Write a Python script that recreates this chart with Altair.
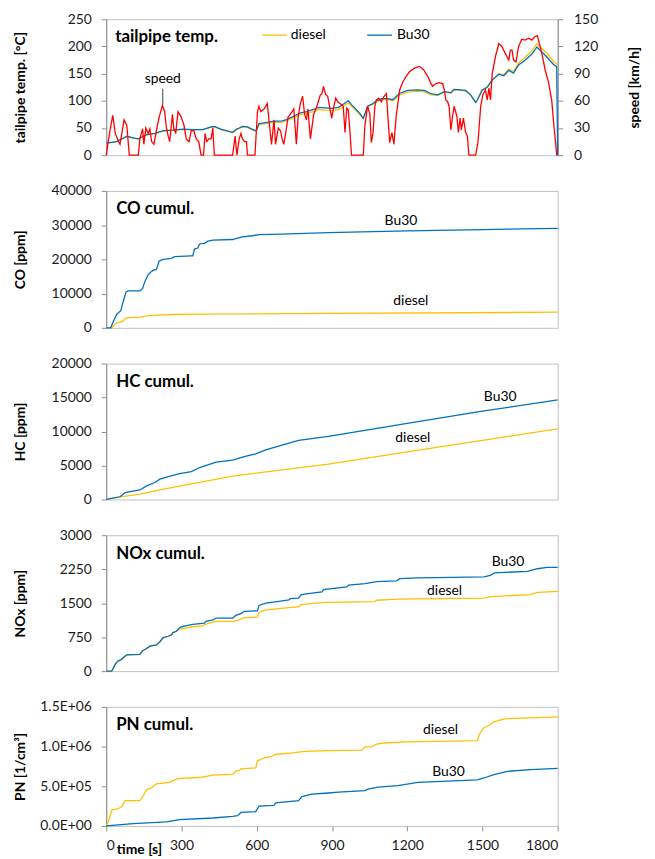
import altair as alt
import pandas as pd

# ---------------- data ----------------
# top panel: tailpipe temperature [°C] and vehicle speed [km/h]
temp_t = [0, 42, 82, 108, 128, 161, 194, 227, 266, 306,
          346, 385, 418, 431, 457, 504, 520, 530, 543, 563,
          589, 598, 609, 636, 662, 702, 715, 741, 774, 800, 833,
          847, 873, 899, 926, 952, 965, 978, 1005, 1025,
          1042, 1064, 1077, 1097, 1123, 1143, 1170, 1203, 1242, 1268,
          1295, 1321, 1348, 1374, 1387, 1413, 1433, 1453, 1473, 1479,
          1499, 1519, 1539, 1565, 1585, 1605, 1624, 1644, 1671, 1697,
          1717, 1730, 1756, 1785, 1796, 1800]
temp_bu30 = [22, 25, 35, 32, 30, 38, 40, 45, 46, 48,
             47, 47, 52, 53, 48, 42, 48, 50, 53, 52,
             46, 45, 58, 60, 62, 63, 65, 70, 78, 80, 85,
             88, 87, 86, 88, 96, 100, 93, 80, 68,
             90, 95, 100, 104, 104, 102, 114, 119, 120, 119,
             113, 111, 117, 115, 121, 120, 119, 111, 97, 101,
             120, 125, 138, 149, 146, 156, 151, 166, 175, 186,
             199, 193, 181, 166, 163, 0]
temp_diesel = [22, 25, 34, 31, 30, 37, 40, 44, 46, 47,
               47, 47, 51, 52, 47, 41, 47, 49, 52, 51,
               45, 44, 56, 58, 60, 61, 63, 67, 75, 77, 81,
               84, 83, 82, 84, 92, 96, 90, 78, 67,
               89, 94, 98, 102, 102, 100, 111, 116, 118, 117,
               111, 110, 116, 114, 120, 119, 118, 110, 97, 101,
               120, 125, 139, 150, 148, 158, 154, 170, 180, 192,
               205, 199, 188, 172, 168, 165]

speed_t = [0, 13, 26, 36, 49, 55, 71, 82, 92, 128, 134, 145, 150, 158, 167, 174, 181, 190,
           200, 211, 224, 233, 240, 247, 253, 264, 269, 277, 286, 299, 310, 319, 330, 339,
           349, 359, 369, 378, 388, 394, 401, 409, 418, 425, 431, 504, 514, 521, 530, 537,
           543, 552, 559, 563, 593, 603, 609, 616, 629, 642, 651, 659, 669, 675, 686, 695,
           701, 708, 717, 725, 734, 748, 758, 765, 774, 783, 791, 798, 804, 814, 827, 840,
           853, 860, 866, 875, 883, 893, 899, 906, 915, 923, 932, 945, 952, 959, 965, 972,
           978, 1025, 1031, 1042, 1051, 1057, 1064, 1071, 1077, 1086, 1097, 1108, 1117, 1123,
           1130, 1139, 1147, 1156, 1170, 1183, 1196, 1209, 1229, 1249, 1266, 1282, 1295, 1301,
           1315, 1328, 1341, 1348, 1354, 1361, 1367, 1374, 1381, 1387, 1398, 1404, 1411, 1416,
           1424, 1433, 1440, 1446, 1473, 1482, 1493, 1502, 1512, 1519, 1526, 1532, 1539, 1552,
           1565, 1578, 1591, 1605, 1611, 1618, 1624, 1634, 1644, 1657, 1670, 1684, 1697, 1710,
           1719, 1727, 1737, 1750, 1763, 1776, 1785, 1793, 1796, 1800]
speed_v = [0, 24, 44, 24, 15, 12, 39, 33, 0, 0, 18, 29, 12, 30, 24, 29, 15, 12,
           27, 42, 55, 48, 30, 21, 15, 45, 30, 24, 48, 42, 33, 18, 15, 27,
           27, 18, 15, 0, 0, 24, 15, 18, 18, 30, 0, 0, 21, 0, 18, 24,
           18, 15, 15, 0, 0, 48, 54, 48, 51, 57, 33, 12, 39, 12, 30, 27,
           18, 12, 27, 42, 45, 51, 12, 42, 57, 65, 45, 39, 51, 18, 45, 54,
           66, 68, 76, 67, 65, 50, 41, 52, 63, 59, 57, 54, 25, 52, 50, 25,
           0, 0, 32, 54, 46, 14, 25, 54, 61, 63, 59, 65, 68, 43,
           14, 25, 12, 43, 72, 81, 87, 92, 96, 98, 94, 87, 79, 76,
           79, 80, 79, 72, 61, 59, 54, 28, 43, 54, 43, 25, 41, 28,
           41, 25, 21, 0, 0, 14, 54, 67, 72, 61, 74, 61, 90, 109,
           123, 120, 112, 105, 116, 116, 105, 103, 120, 128, 127, 129, 127, 131,
           132, 123, 112, 94, 81, 61, 32, 10, 0, 0]

# CO cumulative [ppm]
co_bu30_t = [0, 18, 29, 42, 58, 69, 79, 88, 134, 145, 154, 167, 181, 194, 200, 211, 227, 260, 273,
             339, 345, 352, 365, 372, 392, 405, 425, 504, 524, 543, 583, 609, 701, 886, 1200,
             1500, 1800]
co_bu30 = [0, 0, 2000, 4000, 5000, 8000, 10500, 10800, 10800, 11500, 13500, 15500, 16500, 17000,
           17000, 19500, 20000, 20300, 20800, 21000, 21000, 23000, 23300, 24500, 24700, 25300,
           25600, 25800, 26200, 26600, 26900, 27200, 27400, 27800, 28300, 28700, 29050]
co_diesel_t = [0, 22, 36, 55, 69, 75, 88, 141, 161, 200, 266, 372, 886, 1800]
co_diesel = [0, 0, 1200, 1700, 2000, 2700, 3000, 3100, 3500, 3700, 3900, 4000, 4200, 4560]

# HC cumulative [ppm]
hc_bu30_t = [0, 55, 75, 102, 134, 161, 194, 214, 240, 293, 339, 372, 438, 504, 550, 596, 636,
             701, 767, 886, 1200, 1500, 1800]
hc_bu30 = [0, 400, 1000, 1200, 1400, 2000, 2500, 3000, 3300, 3800, 4100, 4700, 5500, 5800, 6300,
           6700, 7300, 8000, 8700, 9300, 11200, 13000, 14650]
hc_diesel_t = [0, 55, 134, 240, 504, 886, 1200, 1500, 1800]
hc_diesel = [0, 400, 800, 1600, 3450, 5200, 7000, 8700, 10390]

# NOx cumulative [ppm]
nox_bu30_t = [0, 22, 36, 45, 58, 75, 82, 134, 145, 161, 174, 200, 214, 227, 247, 260, 266, 280,
              293, 306, 345, 392, 398, 425, 438, 504, 517, 537, 550, 603, 609, 636, 688, 728,
              734, 767, 778, 820, 860, 866, 959, 966, 1032, 1078, 1157, 1170, 1243, 1507, 1534,
              1547, 1679, 1719, 1758, 1800]
nox_bu30 = [0, 0, 150, 220, 250, 330, 360, 370, 450, 500, 550, 580, 650, 740, 770, 800, 850, 880,
            960, 990, 1030, 1060, 1100, 1130, 1170, 1170, 1230, 1270, 1320, 1330, 1450, 1500,
            1540, 1570, 1600, 1610, 1690, 1720, 1750, 1800, 1860, 1900, 1930, 1975, 1990, 2040,
            2060, 2080, 2120, 2170, 2200, 2260, 2290, 2290]
nox_diesel_t = [0, 22, 36, 45, 58, 75, 82, 134, 145, 161, 174, 200, 214, 227, 247, 260, 266, 280,
                293, 345, 385, 398, 425, 438, 510, 537, 550, 603, 609, 636, 728, 767, 778, 833,
                886, 1071, 1078, 1163, 1507, 1534, 1692, 1719, 1800]
nox_diesel = [0, 0, 150, 220, 250, 330, 360, 370, 450, 500, 550, 580, 650, 740, 770, 800, 850,
              880, 930, 980, 1000, 1040, 1080, 1100, 1100, 1150, 1180, 1190, 1300, 1350, 1400,
              1420, 1470, 1500, 1520, 1535, 1565, 1590, 1610, 1645, 1690, 1740, 1760]

# PN cumulative [1/cm3]
pn_diesel_t = [0, 8, 22, 36, 49, 62, 75, 134, 148, 161, 181, 200, 227, 253, 266, 280, 299, 372,
               425, 504, 517, 530, 537, 596, 603, 616, 636, 662, 675, 741, 794, 886, 1018, 1031,
               1058, 1078, 1110, 1190, 1480, 1487, 1506, 1526, 1546, 1586, 1800]
pn_diesel = [0, 50000, 200000, 210000, 220000, 240000, 320000, 320000, 380000, 460000, 480000,
             530000, 540000, 550000, 570000, 590000, 600000, 610000, 640000, 650000, 690000,
             700000, 720000, 730000, 820000, 840000, 860000, 880000, 900000, 920000, 940000,
             950000, 955000, 995000, 1000000, 1030000, 1045000, 1060000, 1075000, 1150000,
             1240000, 1265000, 1310000, 1350000, 1375000]
pn_bu30_t = [0, 108, 240, 293, 425, 504, 524, 537, 596, 609, 669, 675, 767, 780, 820, 886, 926,
             1031, 1044, 1084, 1163, 1242, 1480, 1506, 1546, 1599, 1692, 1800]
pn_bu30 = [0, 30000, 50000, 80000, 100000, 120000, 130000, 170000, 180000, 250000, 260000,
           290000, 320000, 370000, 400000, 415000, 425000, 446000, 463000, 488000, 508000,
           550000, 580000, 604000, 646000, 688000, 710000, 725000]

time_ticks = [0, 300, 600, 900, 1200, 1500, 1800]
fuels = ["diesel", "Bu30"]

# ---------------- styling ----------------
BLUE = "#0070C0"
YELLOW = "#FFC000"
RED = "#FF0000"
FONT = "Lato"
W = 455
LW = 1.3


def long_df(t_d, v_d, t_b, v_b):
    d = pd.DataFrame({"t": t_d, "v": v_d, "fuel": "diesel"})
    b = pd.DataFrame({"t": t_b, "v": v_b, "fuel": "Bu30"})
    return pd.concat([d, b], ignore_index=True)


def xenc(bottom=False):
    if bottom:
        ax = alt.Axis(values=time_ticks, format="d", title="time [s]", titleX=33, titleY=24,
                      titleAlign="center", titleBaseline="middle", labelPadding=8,
                      tickSize=5, domain=False, grid=False)
    else:
        ax = None
    return alt.X("t:Q", scale=alt.Scale(domain=[0, 1800], nice=False, zero=False), axis=ax)


def yaxis(title, values, h, label_expr=None):
    kw = dict(values=values, title=title, titleX=-86, titleY=h / 2, titleAngle=270,
              titleAlign="center", titleBaseline="middle", tickSize=5, labelPadding=10,
              format="d", grid=False)
    if label_expr:
        kw["labelExpr"] = label_expr
    return alt.Axis(**kw)


color_enc = alt.Color("fuel:N", scale=alt.Scale(domain=fuels, range=[YELLOW, BLUE]), legend=None)
one = pd.DataFrame({"a": [0]})


def text_at(label, x, y, size=14, bold=False, align="center"):
    return alt.Chart(one).mark_text(
        text=label, font=FONT, fontSize=size, fontWeight="bold" if bold else "normal",
        align=align, baseline="middle", color="#000000"
    ).encode(x=alt.value(x), y=alt.value(y))


def panel(df, ytitle, ydomain, yticks, h, title, labels, bottom=False, label_expr=None):
    lines = alt.Chart(df).mark_line(strokeWidth=LW).encode(
        x=xenc(bottom),
        y=alt.Y("v:Q", scale=alt.Scale(domain=ydomain, nice=False),
                axis=yaxis(ytitle, yticks, h, label_expr)),
        color=color_enc,
    )
    layers = [lines, text_at(title, 10, 18.5, size=17, bold=True, align="left")]
    for lab, x, y in labels:
        layers.append(text_at(lab, x, y))
    return alt.layer(*layers).properties(width=W, height=h)


# ---- top panel ----
H1 = 137
temp_df = long_df(temp_t, temp_diesel, temp_t, temp_bu30)
speed_df = pd.DataFrame({"t": speed_t, "speed": speed_v})

temp_layer = alt.Chart(temp_df).mark_line(strokeWidth=LW).encode(
    x=xenc(),
    y=alt.Y("v:Q", scale=alt.Scale(domain=[0, 250], nice=False),
            axis=yaxis("tailpipe temp. [°C]", [0, 50, 100, 150, 200, 250], H1)),
    color=color_enc,
)
speed_layer = alt.Chart(speed_df).mark_line(strokeWidth=LW, color=RED).encode(
    x=xenc(),
    y=alt.Y("speed:Q", scale=alt.Scale(domain=[0, 150], nice=False),
            axis=alt.Axis(orient="right", values=[0, 30, 60, 90, 120, 150], title="speed [km/h]",
                          titleX=77, titleY=H1 / 2, titleAngle=270, titleAlign="center",
                          titleBaseline="middle", tickSize=5, labelPadding=11, grid=False)),
)
leg_d_line = alt.Chart(one).mark_rule(color=YELLOW, strokeWidth=LW).encode(
    x=alt.value(157), x2=alt.value(182), y=alt.value(16))
leg_b_line = alt.Chart(one).mark_rule(color=BLUE, strokeWidth=LW).encode(
    x=alt.value(263), x2=alt.value(288), y=alt.value(16))
leader = alt.Chart(one).mark_rule(color="#404040", strokeWidth=1).encode(
    x=alt.value(57), y=alt.value(70), y2=alt.value(86))

top = alt.layer(
    temp_layer, speed_layer,
    text_at("tailpipe temp.", 9, 18, size=17, bold=True, align="left"),
    leg_d_line, text_at("diesel", 186, 16, align="left"),
    leg_b_line, text_at("Bu30", 293, 16, align="left"),
    leader, text_at("speed", 57, 60),
).resolve_scale(y="independent").properties(width=W, height=H1)

co = panel(long_df(co_diesel_t, co_diesel, co_bu30_t, co_bu30), "CO [ppm]", [0, 40000],
           [0, 10000, 20000, 30000, 40000], 138, "CO cumul.",
           [("Bu30", 297, 30), ("diesel", 307, 111)])
hc = panel(long_df(hc_diesel_t, hc_diesel, hc_bu30_t, hc_bu30), "HC [ppm]", [0, 20000],
           [0, 5000, 10000, 15000, 20000], 137, "HC cumul.",
           [("Bu30", 397, 34), ("diesel", 309, 75)])
nox = panel(long_df(nox_diesel_t, nox_diesel, nox_bu30_t, nox_bu30), "NOx [ppm]", [0, 3000],
            [0, 750, 1500, 2250, 3000], 137, "NOx cumul.",
            [("Bu30", 405, 27), ("diesel", 341, 56)])
pn_expr = ("datum.value == 0 ? '0.0E+00' : (datum.value < 1000000 ? "
           "format(datum.value / 100000, '.1f') + 'E+05' : "
           "format(datum.value / 1000000, '.1f') + 'E+06')")
pn = panel(long_df(pn_diesel_t, pn_diesel, pn_bu30_t, pn_bu30), "PN [1/cm³]", [0, 1500000],
           [0, 500000, 1000000, 1500000], 120, "PN cumul.",
           [("diesel", 337, 23.6), ("Bu30", 345, 66)], bottom=True, label_expr=pn_expr)

chart = alt.vconcat(
    top, co, hc, nox, pn, spacing=20,
    padding={"left": 5, "right": 5, "top": 0, "bottom": 0},
).configure_view(
    stroke="#BFBFBF", strokeWidth=1
).configure_axis(
    labelFont=FONT, labelFontSize=14, labelColor="#1a1a1a",
    titleFont=FONT, titleFontSize=14, titleFontWeight="bold", titleColor="#000000",
    domainColor="#8C8C8C", tickColor="#8C8C8C", grid=False,
)

chart.save("out.html", embed_options={"renderer": "svg", "actions": False})
